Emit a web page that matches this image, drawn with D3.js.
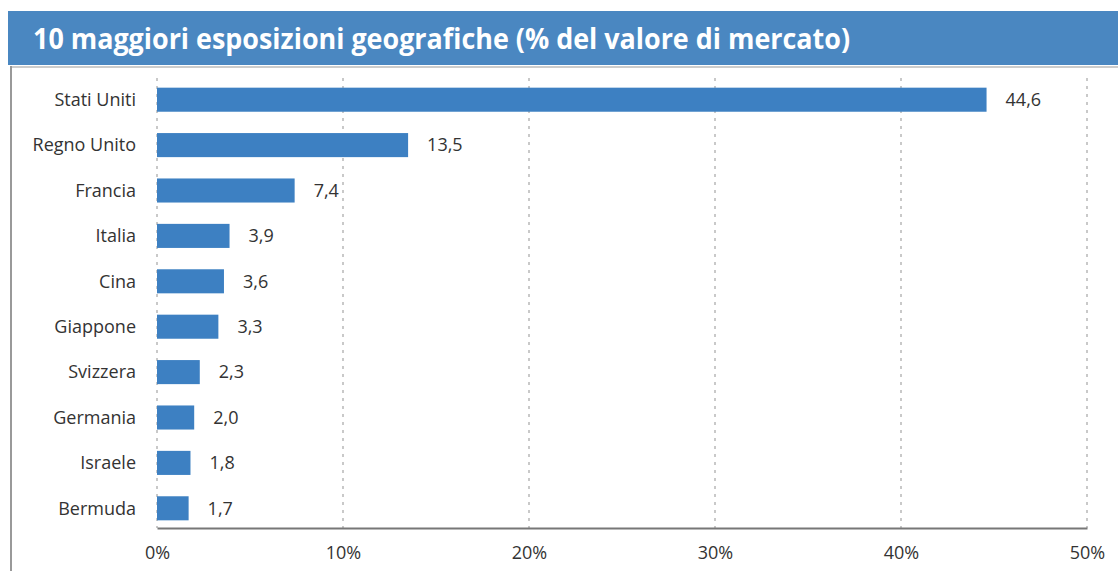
<!DOCTYPE html>
<html>
<head>
<meta charset="utf-8">
<script src="https://cdn.jsdelivr.net/npm/d3@7"></script>
<style>
  html, body { margin: 0; padding: 0; background: #fff; }
  svg { display: block; font-family: "Open Sans", "DejaVu Sans", sans-serif; }
</style>
</head>
<body>
<div id="chart"></div>
<script>
const countries = ["Stati Uniti", "Regno Unito", "Francia", "Italia", "Cina", "Giappone", "Svizzera", "Germania", "Israele", "Bermuda"];
const weights = [44.6, 13.5, 7.4, 3.9, 3.6, 3.3, 2.3, 2.0, 1.8, 1.7];
const xTicks = [0, 10, 20, 30, 40, 50];
const title = "10 maggiori esposizioni geografiche (% del valore di mercato)";

const width = 1118, height = 571;
const itFmt = d3.formatLocale({ decimal: ",", thousands: ".", grouping: [3], currency: ["", "€"] });
const fmtVal = itFmt.format(".1f");

const svg = d3.select("#chart").append("svg")
    .attr("width", width).attr("height", height);

// title band
svg.append("rect")
    .attr("x", 8).attr("y", 11).attr("width", width - 8).attr("height", 54)
    .attr("fill", "#4a87c1");
svg.append("text")
    .attr("x", 33).attr("y", 49)
    .attr("textLength", 817).attr("lengthAdjust", "spacingAndGlyphs")
    .style("font-size", "29px").style("font-weight", "bold").style("fill", "#fff")
    .text(title);

// thin frame under the title
svg.append("line").attr("x1", 10).attr("x2", width).attr("y1", 67).attr("y2", 67)
    .attr("stroke", "#bbb").attr("stroke-width", 1.5);
svg.append("line").attr("x1", 11).attr("x2", 11).attr("y1", 66).attr("y2", height)
    .attr("stroke", "#999").attr("stroke-width", 2);

const x = d3.scaleLinear().domain([0, 50]).range([157, 1087]);
const y = d3.scaleBand().domain(countries).range([77, 531])
    .paddingInner(0.47).paddingOuter(0.235);

const axisY = 528;

// dashed grid
svg.append("g").selectAll("line").data(xTicks).enter().append("line")
    .attr("x1", d => x(d)).attr("x2", d => x(d))
    .attr("y1", 78).attr("y2", axisY)
    .attr("stroke", "#b8b8b8").attr("stroke-width", 1.5)
    .attr("stroke-dasharray", "3,5");

// bars
svg.append("g").selectAll("rect").data(countries).enter().append("rect")
    .attr("x", x(0))
    .attr("y", d => y(d))
    .attr("width", (d, i) => x(weights[i]) - x(0))
    .attr("height", y.bandwidth())
    .attr("fill", "#3d80c2");

// value labels
svg.append("g").selectAll("text").data(countries).enter().append("text")
    .attr("x", (d, i) => x(weights[i]) + 19)
    .attr("y", d => y(d) + y.bandwidth() / 2)
    .attr("dy", "0.35em")
    .style("font-size", "18px").style("fill", "#333")
    .text((d, i) => fmtVal(weights[i]));

// category labels
svg.append("g").selectAll("text").data(countries).enter().append("text")
    .attr("x", 136)
    .attr("y", d => y(d) + y.bandwidth() / 2)
    .attr("dy", "0.35em")
    .attr("text-anchor", "end")
    .style("font-size", "18px").style("fill", "#333")
    .text(d => d);

// x axis
const xAxis = svg.append("g").attr("transform", `translate(0,${axisY})`)
    .call(d3.axisBottom(x).tickValues(xTicks).tickSize(0).tickPadding(18).tickFormat(d => d + "%"));
xAxis.select(".domain").attr("stroke", "#777").attr("stroke-width", 2);
xAxis.selectAll("text")
    .style("font-size", "18px").style("fill", "#333")
    .style("font-family", "\"Open Sans\", sans-serif");
</script>
</body>
</html>
